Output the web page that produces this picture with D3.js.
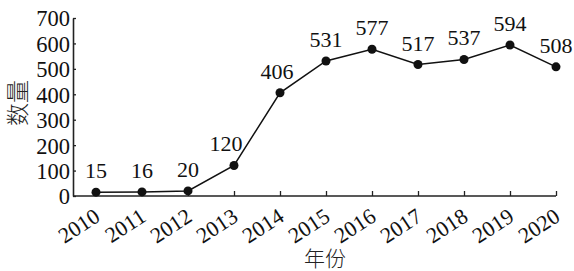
<!DOCTYPE html>
<html><head><meta charset="utf-8">
<script src="https://cdn.jsdelivr.net/npm/d3@7"></script>
<style>body{margin:0;background:#fff;}svg{display:block;}</style>
</head><body>
<script>
const years = ["2010","2011","2012","2013","2014","2015","2016","2017","2018","2019","2020"];
const counts = [15,16,20,120,406,531,577,517,537,594,508];
const yTicks = [0,100,200,300,400,500,600,700];
const xTitle = "年份";
const yTitle = "数量";

(function(){
const W = 574, H = 271;
const svg = d3.select("body").append("svg").attr("width", W).attr("height", H);
const mLeft = 73, mRight = 556, mTop = 18, mBottom = 196;
const x = d3.scalePoint().domain(years).range([96, mRight]);
const y = d3.scaleLinear().domain([0, 700]).range([mBottom, mTop]);
const font = "'Liberation Serif','Times New Roman',serif";

const xAxis = svg.append("g").attr("transform", `translate(0,${mBottom})`)
  .call(d3.axisBottom(x).tickSizeInner(-5).tickSizeOuter(0).tickFormat(d => d));
xAxis.select(".domain").remove();
xAxis.append("line").attr("x1", mLeft).attr("x2", mRight).attr("stroke", "#222").attr("stroke-width", 1.6);
xAxis.selectAll(".tick line").attr("stroke", "#222").attr("stroke-width", 1.3);
xAxis.selectAll(".tick text")
  .attr("font-family", font).attr("font-size", 22).attr("fill", "#111")
  .attr("text-anchor", "end").attr("dy", null).attr("y", null)
  .attr("transform", "translate(5,24) rotate(-33)");

const yAxis = svg.append("g").attr("transform", `translate(${mLeft},0)`)
  .call(d3.axisLeft(y).tickValues(yTicks).tickSizeInner(-3).tickSizeOuter(0).tickPadding(3));
yAxis.select(".domain").attr("stroke", "#222").attr("stroke-width", 1.6);
yAxis.selectAll(".tick line").attr("stroke", "#222").attr("stroke-width", 1.3);
yAxis.selectAll(".tick text").attr("font-family", font).attr("font-size", 22.5).attr("fill", "#111")
  .attr("x", -3).attr("dy", "0.35em");

const line = d3.line().x((d,i) => x(years[i])).y(d => y(d));
svg.append("path").datum(counts).attr("d", line).attr("fill", "none")
  .attr("stroke", "#111").attr("stroke-width", 1.5);
svg.selectAll("circle.pt").data(counts).join("circle").attr("class","pt")
  .attr("cx", (d,i) => x(years[i])).attr("cy", d => y(d)).attr("r", 4.5).attr("fill", "#111");

svg.selectAll("text.val").data(counts).join("text").attr("class","val")
  .attr("x", (d,i) => x(years[i]) - (i===3 ? 8 : i===4 ? 3 : 0))
  .attr("y", d => y(d) - 14)
  .attr("text-anchor", "middle").attr("font-family", font).attr("font-size", 22).attr("fill", "#111")
  .text(d => d);

svg.append("text").attr("x", 325).attr("y", 266).attr("text-anchor", "middle")
  .attr("font-family", "'Noto Sans CJK SC',sans-serif").attr("font-size", 21).attr("font-weight", 300).attr("fill", "#222").text(xTitle);
svg.append("text").attr("transform", "translate(26,103) rotate(-90)").attr("text-anchor", "middle")
  .attr("font-family", "'Noto Sans CJK SC',sans-serif").attr("font-size", 23).attr("font-weight", 300).attr("fill", "#222").text(yTitle);
})();
</script>
</body></html>
